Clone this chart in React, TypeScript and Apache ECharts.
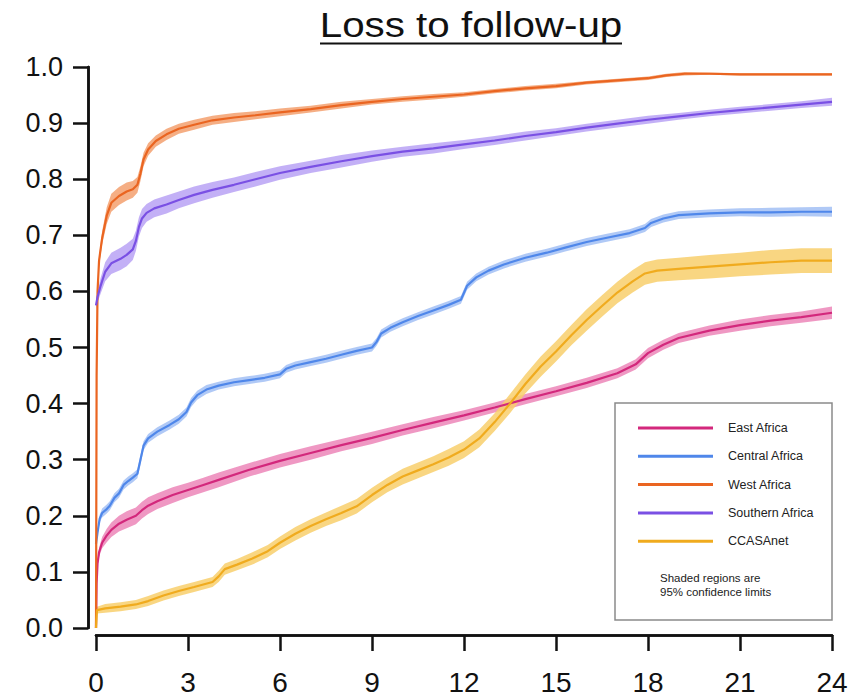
import React, { useEffect, useRef } from "react";
import * as echarts from "echarts";

// Each row: [months since enrolment, cumulative incidence, half-width of 95% CI]
type Row = [number, number, number];

const eastAfrica: Row[] = [
  [0, 0, 0], [0.02, 0.08, 0.002], [0.05, 0.115, 0.005], [0.1, 0.135, 0.008], [0.2, 0.152, 0.01],
  [0.35, 0.165, 0.012], [0.5, 0.175, 0.013], [0.75, 0.186, 0.014], [1.0, 0.193, 0.015], [1.3, 0.2, 0.015],
  [1.5, 0.21, 0.015], [1.7, 0.218, 0.015], [2.0, 0.226, 0.014], [2.5, 0.237, 0.014], [3, 0.246, 0.013],
  [3.5, 0.255, 0.013], [4, 0.264, 0.013], [5, 0.282, 0.012], [6, 0.298, 0.012], [7, 0.312, 0.012],
  [8, 0.326, 0.011], [9, 0.339, 0.011], [10, 0.353, 0.01], [11, 0.366, 0.01], [12, 0.379, 0.009],
  [13, 0.393, 0.009], [14, 0.408, 0.009], [15, 0.422, 0.009], [16, 0.437, 0.009], [17, 0.454, 0.009],
  [17.6, 0.47, 0.009], [18, 0.49, 0.009], [18.5, 0.505, 0.009], [19, 0.517, 0.009], [20, 0.53, 0.009],
  [21, 0.54, 0.01], [22, 0.548, 0.01], [23, 0.554, 0.01], [24, 0.562, 0.011],
];

const centralAfrica: Row[] = [
  [0, 0.15, 0.004], [0.05, 0.17, 0.006], [0.12, 0.195, 0.007], [0.2, 0.205, 0.008], [0.35, 0.212, 0.008],
  [0.45, 0.218, 0.008], [0.6, 0.232, 0.008], [0.75, 0.24, 0.008], [0.9, 0.255, 0.008], [1.05, 0.262, 0.008],
  [1.2, 0.268, 0.008], [1.35, 0.275, 0.008], [1.45, 0.3, 0.008], [1.55, 0.325, 0.008], [1.7, 0.338, 0.008],
  [2.0, 0.35, 0.008], [2.4, 0.362, 0.008], [2.7, 0.372, 0.008], [2.95, 0.385, 0.008], [3.1, 0.402, 0.008],
  [3.3, 0.415, 0.008], [3.6, 0.425, 0.008], [4, 0.432, 0.007], [4.5, 0.438, 0.007], [5, 0.442, 0.007],
  [5.5, 0.446, 0.007], [6, 0.452, 0.007], [6.2, 0.462, 0.007], [6.5, 0.468, 0.007], [7, 0.474, 0.007],
  [7.5, 0.48, 0.007], [8, 0.487, 0.007], [8.5, 0.494, 0.007], [9, 0.5, 0.007], [9.15, 0.51, 0.007],
  [9.3, 0.525, 0.007], [9.6, 0.535, 0.007], [10, 0.545, 0.007], [10.5, 0.556, 0.007], [11, 0.566, 0.007],
  [11.5, 0.576, 0.007], [11.9, 0.585, 0.007], [12.1, 0.61, 0.007], [12.4, 0.625, 0.007], [12.8, 0.637, 0.007],
  [13.3, 0.648, 0.007], [14, 0.66, 0.007], [14.7, 0.669, 0.007], [15.3, 0.678, 0.007], [16, 0.688, 0.007],
  [16.7, 0.696, 0.007], [17.4, 0.704, 0.007], [17.9, 0.713, 0.007], [18.1, 0.722, 0.007], [18.5, 0.73, 0.007],
  [19, 0.736, 0.007], [20, 0.739, 0.007], [21, 0.741, 0.007], [22, 0.741, 0.008], [23, 0.742, 0.008],
  [24, 0.742, 0.009],
];

const westAfrica: Row[] = [
  [0, 0, 0], [0.02, 0.45, 0], [0.05, 0.6, 0.004], [0.1, 0.655, 0.008], [0.2, 0.695, 0.012],
  [0.35, 0.735, 0.015], [0.5, 0.758, 0.016], [0.75, 0.77, 0.016], [1.0, 0.778, 0.016], [1.2, 0.782, 0.015],
  [1.35, 0.79, 0.014], [1.45, 0.81, 0.013], [1.55, 0.835, 0.012], [1.7, 0.853, 0.011], [1.95, 0.868, 0.01],
  [2.3, 0.88, 0.01], [2.7, 0.89, 0.009], [3.2, 0.897, 0.009], [3.8, 0.905, 0.008], [4.5, 0.91, 0.008],
  [5.2, 0.914, 0.007], [6, 0.919, 0.007], [7, 0.925, 0.006], [8, 0.932, 0.006], [9, 0.938, 0.005],
  [10, 0.943, 0.005], [11, 0.947, 0.005], [12, 0.951, 0.004], [13, 0.957, 0.004], [14, 0.962, 0.004],
  [15, 0.966, 0.004], [16, 0.972, 0.003], [17, 0.976, 0.003], [18, 0.98, 0.003], [18.6, 0.985, 0.003],
  [19.2, 0.988, 0.003], [20, 0.988, 0.002], [21, 0.987, 0.002], [22, 0.987, 0.002], [23, 0.987, 0.002],
  [24, 0.987, 0.002],
];

const southernAfrica: Row[] = [
  [0, 0.575, 0.006], [0.05, 0.59, 0.01], [0.15, 0.61, 0.014], [0.3, 0.635, 0.017], [0.5, 0.65, 0.019],
  [0.8, 0.658, 0.02], [1.0, 0.665, 0.02], [1.2, 0.675, 0.019], [1.3, 0.69, 0.018], [1.4, 0.715, 0.017],
  [1.5, 0.73, 0.017], [1.65, 0.74, 0.016], [1.9, 0.748, 0.016], [2.3, 0.755, 0.016], [2.7, 0.763, 0.015],
  [3.2, 0.772, 0.015], [3.8, 0.781, 0.014], [4.5, 0.79, 0.013], [5.2, 0.8, 0.013], [6, 0.811, 0.012],
  [7, 0.822, 0.011], [8, 0.832, 0.011], [9, 0.841, 0.01], [10, 0.849, 0.009], [11, 0.855, 0.009],
  [12, 0.862, 0.008], [13, 0.869, 0.008], [14, 0.877, 0.008], [15, 0.884, 0.007], [16, 0.892, 0.007],
  [17, 0.899, 0.007], [18, 0.906, 0.007], [19, 0.912, 0.006], [20, 0.918, 0.006], [21, 0.923, 0.006],
  [22, 0.928, 0.006], [23, 0.933, 0.006], [24, 0.938, 0.007],
];

const ccasanet: Row[] = [
  [0, 0, 0], [0.03, 0.032, 0.006], [0.3, 0.035, 0.008], [0.8, 0.038, 0.008], [1.3, 0.042, 0.008],
  [1.7, 0.048, 0.009], [2.2, 0.058, 0.009], [2.7, 0.066, 0.009], [3.2, 0.073, 0.009], [3.8, 0.082, 0.009],
  [4.0, 0.092, 0.01], [4.2, 0.105, 0.01], [4.6, 0.113, 0.01], [5.1, 0.124, 0.011], [5.6, 0.137, 0.011],
  [6.0, 0.152, 0.011], [6.5, 0.168, 0.012], [7, 0.182, 0.012], [7.5, 0.194, 0.012], [8, 0.205, 0.013],
  [8.5, 0.217, 0.013], [9, 0.237, 0.013], [9.5, 0.255, 0.013], [10, 0.27, 0.014], [10.5, 0.281, 0.014],
  [11, 0.292, 0.014], [11.5, 0.304, 0.015], [12, 0.318, 0.015], [12.5, 0.338, 0.016], [13, 0.367, 0.016],
  [13.5, 0.4, 0.017], [14, 0.435, 0.017], [14.5, 0.466, 0.018], [15, 0.493, 0.018], [15.5, 0.522, 0.018],
  [16, 0.549, 0.019], [16.5, 0.574, 0.019], [17, 0.598, 0.019], [17.5, 0.618, 0.02], [17.9, 0.632, 0.02],
  [18.3, 0.637, 0.02], [19, 0.64, 0.02], [20, 0.644, 0.021], [21, 0.648, 0.021], [22, 0.652, 0.022],
  [23, 0.655, 0.022], [24, 0.655, 0.022],
];

const regionNames = ["East Africa", "Central Africa", "West Africa", "Southern Africa", "CCASAnet"];
const regionData: Row[][] = [eastAfrica, centralAfrica, westAfrica, southernAfrica, ccasanet];
const lineColors = ["#d3287c", "#4f87ea", "#ea6521", "#7a50e4", "#f0ab1e"];
const bandColors = ["#ec86b8", "#a2c0f5", "#f3a06e", "#b9a2f4", "#f8cf6c"];

const titleText = "Loss to follow-up";
const noteLines = ["Shaded regions are", "95% confidence limits"];

const FONT = "'Liberation Sans', Arial, Helvetica, sans-serif";

export default function App() {
  const ref = useRef<HTMLDivElement>(null);

  useEffect(() => {
    if (!ref.current) return;
    const chart = echarts.init(ref.current, undefined, { renderer: "svg" });

    // Confidence bands: one polygon per region, upper edge then lower edge reversed
    const bandSeries = regionData.map((rows, i) => ({
      type: "custom",
      name: regionNames[i] + " CI",
      z: 1,
      silent: true,
      data: [[0, 0]],
      renderItem: (_params: any, api: any) => {
        const upper = rows.map((r) => api.coord([r[0], r[1] + r[2]]));
        const lower = rows
          .slice()
          .reverse()
          .map((r) => api.coord([r[0], Math.max(0, r[1] - r[2])]));
        return {
          type: "polygon",
          shape: { points: upper.concat(lower) },
          style: { fill: bandColors[i], opacity: 0.85 },
        };
      },
    }));

    const lineSeries = regionData.map((rows, i) => ({
      type: "line",
      name: regionNames[i],
      z: 3,
      showSymbol: false,
      silent: true,
      data: rows.map((r) => [r[0], r[1]]),
      lineStyle: { color: lineColors[i], width: 2.2 },
      itemStyle: { color: lineColors[i] },
    }));

    // Hand-built legend box in the lower right
    const legendLeft = 615;
    const legendTop = 403;
    const legendItems: any[] = [];
    regionNames.forEach((name, i) => {
      const y = 428 + i * 28.3;
      legendItems.push({
        type: "line",
        shape: { x1: 638, y1: y, x2: 713, y2: y },
        style: { stroke: lineColors[i], lineWidth: 3 },
        z: 11,
      });
      legendItems.push({
        type: "text",
        x: 728,
        y,
        style: {
          text: name,
          font: `12.5px ${FONT}`,
          fill: "#222",
          textVerticalAlign: "middle",
          verticalAlign: "middle",
        },
        z: 11,
      });
    });
    noteLines.forEach((t, j) => {
      legendItems.push({
        type: "text",
        x: 660,
        y: 578 + j * 14,
        style: {
          text: t,
          font: `11.5px ${FONT}`,
          fill: "#222",
          verticalAlign: "middle",
          textVerticalAlign: "middle",
        },
        z: 11,
      });
    });

    const axisLineStyle = { color: "#111", width: 2.5 };

    const option: any = {
      animation: false,
      backgroundColor: "#ffffff",
      grid: { left: 96, right: 31, top: 67, bottom: 69 },
      xAxis: [
        {
          type: "value",
          min: 0,
          max: 24,
          interval: 3,
          offset: 7,
          position: "bottom",
          axisLine: { show: true, onZero: false, lineStyle: axisLineStyle },
          axisTick: { show: true, length: 16, lineStyle: axisLineStyle },
          axisLabel: { margin: 33, fontSize: 28, color: "#111", fontFamily: FONT },
          splitLine: { show: false },
        },
        {
          // wider copy that only draws the longer axis line
          type: "value",
          min: -0.26,
          max: 24.26,
          offset: 7,
          position: "bottom",
          axisLine: { show: true, onZero: false, lineStyle: axisLineStyle },
          axisTick: { show: false },
          axisLabel: { show: false },
          splitLine: { show: false },
        },
      ],
      yAxis: [
        {
          type: "value",
          min: 0,
          max: 1,
          interval: 0.1,
          offset: 8,
          position: "left",
          axisLine: { show: true, onZero: false, lineStyle: axisLineStyle },
          axisTick: { show: true, length: 15, lineStyle: axisLineStyle },
          axisLabel: {
            margin: 25,
            fontSize: 27,
            color: "#111",
            fontFamily: FONT,
            formatter: (v: number) => v.toFixed(1),
          },
          splitLine: { show: false },
        },
        {
          // taller copy that only draws the longer axis line
          type: "value",
          min: -0.016,
          max: 1.0125,
          offset: 8,
          position: "left",
          axisLine: { show: true, onZero: false, lineStyle: axisLineStyle },
          axisTick: { show: false },
          axisLabel: { show: false },
          splitLine: { show: false },
        },
      ],
      graphic: [
        {
          type: "text",
          x: 471,
          y: 6,
          scaleX: 1.12,
          style: {
            text: titleText,
            font: `36px ${FONT}`,
            fill: "#111",
            textAlign: "center",
            align: "center",
            verticalAlign: "top",
            textVerticalAlign: "top",
          },
          z: 10,
        },
        {
          type: "line",
          shape: { x1: 320, y1: 43.5, x2: 622, y2: 43.5 },
          style: { stroke: "#111", lineWidth: 2 },
          z: 10,
        },
        {
          type: "rect",
          shape: { x: legendLeft, y: legendTop, width: 217, height: 217 },
          style: { fill: "#ffffff", stroke: "#8a8a8a", lineWidth: 1.5 },
          z: 10,
        },
        ...legendItems,
      ],
      series: [...bandSeries, ...lineSeries],
    };

    chart.setOption(option);
    return () => chart.dispose();
  }, []);

  return <div ref={ref} style={{ width: 863, height: 697, position: "absolute", left: 0, top: 0 }} />;
}
